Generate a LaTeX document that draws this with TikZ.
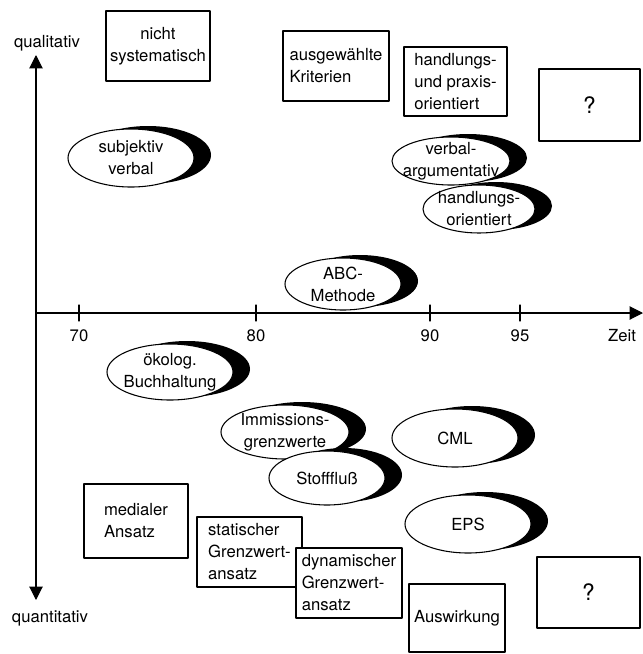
\documentclass[tikz,border=0pt]{standalone}
\usepackage{fontspec}
\setmainfont{TeX Gyre Heros}
\usetikzlibrary{arrows.meta}

\begin{document}
\begin{tikzpicture}[x=0.75pt,y=-0.75pt,line cap=round,line join=round,
                    font=\fontsize{12.5}{16.5}\selectfont,
                    >={Triangle[length=10pt,width=10pt]},
                    axis/.style={line width=0.8pt},
                    box/.style={draw,line width=0.8pt,fill=white,align=left,
                                inner sep=0pt},
                    boxsize/.style 2 args={minimum width=#1*0.75pt,
                                           minimum height=#2*0.75pt},
                    oval/.style={draw,line width=0.8pt,fill=white},
                    ovalshadow/.style={fill=black,xshift=12.75pt,yshift=2.25pt}]
  \useasboundingbox (0,0) rectangle (643,654);

  % Axes: time to the right, qualitative up, quantitative down.
  \coordinate (ytop) at (36,55);
  \coordinate (ybot) at (36,600);
  \coordinate (xleft) at (36,313);
  \coordinate (xright) at (643,313);
  \draw[axis,<->] (ytop) -- (ybot);
  \draw[axis,->] (xleft) -- (xright);
  \foreach \tx/\year in {79/70,256/80,430/90,520/95}{
    \draw[axis] (\tx,305) -- (\tx,321);
    \node (t\year) at (\tx,336) {\year};
  }
  \node (zeit) at (622,336) {Zeit};
  \node (quali) at (47,43) {qualitativ};
  \node (quanti) at (50,618) {quantitativ};

  % Boxes, upper half.
  \node[box,boxsize={104}{70},align=center] (nicht) at (158,46)
    {nicht\\systematisch};
  \node[box,boxsize={106}{70}] (ausgew) at (336,66)
    {ausgewählte\\Kriterien};
  \node[box,boxsize={103}{69}] (praxis) at (455.5,81.5)
    {handlungs-\\und praxis-\\orientiert};
  \node[box,boxsize={101}{72},font=\fontsize{17}{20}\selectfont] (fragoben)
    at (589.5,105) {?};

  % Ovals with their black shadow, upper half.
  \fill[ovalshadow] (131,158) ellipse [x radius=63,y radius=29];
  \draw[oval] (131,158) ellipse [x radius=63,y radius=29];
  \node[align=center] (subj) at (131,158) {subjektiv\\verbal};

  \fill[ovalshadow] (451,161) ellipse [x radius=59,y radius=24];
  \draw[oval] (451,161) ellipse [x radius=59,y radius=24];
  \node[align=center] (verbarg) at (451,161) {verbal-\\argumentativ};

  \fill[ovalshadow] (479,209) ellipse [x radius=56,y radius=24];
  \draw[oval] (479,209) ellipse [x radius=56,y radius=24];
  \node[align=center] (handor) at (479,209) {handlungs-\\orientiert};

  \fill[ovalshadow] (343,284) ellipse [x radius=58,y radius=26];
  \draw[oval] (343,284) ellipse [x radius=58,y radius=26];
  \node[align=center] (abc) at (343,284) {ABC-\\Methode};

  % Ovals, lower half.
  \fill[ovalshadow] (170,372) ellipse [x radius=63,y radius=28];
  \draw[oval] (170,372) ellipse [x radius=63,y radius=28];
  \node[align=center] (oekolog) at (170,372) {ökolog.\\Buchhaltung};

  \fill[ovalshadow] (285,432) ellipse [x radius=64,y radius=27];
  \draw[oval] (285,432) ellipse [x radius=64,y radius=27];
  \node[align=center] (immiss) at (285,432) {Immissions-\\grenzwerte};

  \fill[ovalshadow] (327,478) ellipse [x radius=58,y radius=27];
  \draw[oval] (327,478) ellipse [x radius=58,y radius=27];
  \node (stoff) at (327,478) {Stofffluß};

  \fill[ovalshadow] (455,438) ellipse [x radius=63,y radius=29];
  \draw[oval] (455,438) ellipse [x radius=63,y radius=29];
  \node (cml) at (455,438) {CML};

  \fill[ovalshadow] (468,524) ellipse [x radius=63,y radius=29];
  \draw[oval] (468,524) ellipse [x radius=63,y radius=29];
  \node (eps) at (468,524) {EPS};

  % Boxes, lower half.
  \node[box,boxsize={104}{74}] (medial) at (136,521)
    {medialer\\Ansatz};
  \node[box,boxsize={105}{70}] (statisch) at (249.5,552)
    {statischer\\Grenzwert-\\ansatz};
  \node[box,boxsize={106}{70}] (dynam) at (349,583)
    {dynamischer\\Grenzwert-\\ansatz};
  \node[box,boxsize={96}{68}] (auswirk) at (457,618) {Auswirkung};
  \node[box,boxsize={103}{71},font=\fontsize{17}{20}\selectfont] (fragunten)
    at (588.5,592.5) {?};
\end{tikzpicture}
\end{document}
